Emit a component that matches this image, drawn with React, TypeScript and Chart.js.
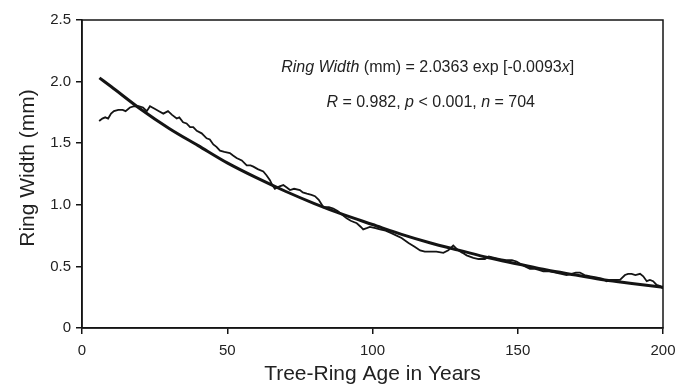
import React, { useEffect, useRef } from "react";
import { Chart, registerables } from "chart.js";

Chart.register(...registerables);

// Observed mean ring width by tree-ring age
const ageYears = [
  5.9, 7, 8, 9, 10, 11, 12.5, 14, 15, 16.5, 18, 19.5, 21, 22.3, 23.4, 25, 26.5, 28, 29.6, 31,
  32.6, 33.5, 34.8, 36, 37.2, 38.3, 39.5, 41.2, 42.9, 44, 45.2, 46.3, 47.5, 49, 50.9, 52, 53.2,
  55, 56.7, 58, 59, 60.5, 62.4, 63.5, 64.7, 65.5, 66.4, 68, 69.3, 70.5, 71.6, 73, 75, 76, 77.4,
  79, 80.2, 81.5, 83.1, 85, 86.5, 88, 89.5, 91.1, 92.5, 94.6, 96, 96.8, 98, 99.1, 101, 102.6,
  104.5, 106.5, 108.3, 110, 112.4, 114.5, 116.4, 118, 119.8, 122, 124.4, 126.1, 127.8, 129.5,
  131, 132.4, 134.7, 136.5, 138.7, 140, 142, 143.9, 146, 148, 149.6, 151, 152.5, 154.2, 156,
  157.5, 158.8, 161, 163, 165, 166.8, 168.5, 170, 171.4, 173, 175, 177, 179, 180.6, 182, 184,
  185.2, 186.9, 188, 189.2, 190.5, 192.1, 193.2, 194.4, 195.5, 196.6, 197.8, 199, 200,
];
const ringWidth = [
  1.68, 1.7, 1.71, 1.7, 1.74, 1.76, 1.77, 1.77, 1.76, 1.79, 1.8, 1.8, 1.79, 1.76, 1.8, 1.78, 1.76,
  1.74, 1.76, 1.73, 1.7, 1.71, 1.67, 1.66, 1.63, 1.63, 1.6, 1.58, 1.54, 1.53, 1.49, 1.47, 1.44,
  1.43, 1.42, 1.4, 1.38, 1.36, 1.32, 1.32, 1.31, 1.29, 1.27, 1.24, 1.2, 1.16, 1.13, 1.15, 1.16,
  1.14, 1.12, 1.13, 1.12, 1.1, 1.09, 1.08, 1.07, 1.04, 0.98, 0.98, 0.97, 0.95, 0.92, 0.89, 0.87,
  0.85, 0.82, 0.8, 0.81, 0.82, 0.81, 0.8, 0.79, 0.77, 0.75, 0.73, 0.69, 0.66, 0.63, 0.62, 0.62,
  0.62, 0.61, 0.63, 0.67, 0.63, 0.61, 0.59, 0.57, 0.56, 0.56, 0.58, 0.57, 0.56, 0.55, 0.55, 0.54,
  0.52, 0.5, 0.48, 0.48, 0.47, 0.46, 0.46, 0.45, 0.44, 0.43, 0.44, 0.45, 0.45, 0.43, 0.42, 0.41,
  0.4, 0.38, 0.39, 0.39, 0.39, 0.43, 0.44, 0.44, 0.43, 0.44, 0.42, 0.38, 0.39, 0.38, 0.35, 0.34,
  0.32,
];

// Fitted curve
const fitAge = [6, 10, 20, 30, 40, 50, 60, 70, 80, 90, 100, 110, 120, 130, 140, 150, 160, 170, 180, 190, 200];
const fitWidth = [
  2.03, 1.96, 1.78, 1.62, 1.48, 1.34, 1.22, 1.11, 1.01, 0.92, 0.84, 0.76, 0.69, 0.63, 0.57, 0.52,
  0.47, 0.43, 0.39, 0.36, 0.33,
];

const xTicks = [0, 50, 100, 150, 200];
const yTicks = [0, 0.5, 1.0, 1.5, 2.0, 2.5];
const yTickLabels = ["0", "0.5", "1.0", "1.5", "2.0", "2.5"];

const xTitle = "Tree-Ring Age in Years";
const yTitle = "Ring Width (mm)";
const eqLine1 = [
  { t: "Ring Width", i: true },
  { t: " (mm) = 2.0363 exp [-0.0093", i: false },
  { t: "x", i: true },
  { t: "]", i: false },
];
const eqLine2 = [
  { t: "R", i: true },
  { t: " = 0.982, ", i: false },
  { t: "p", i: true },
  { t: " < 0.001, ", i: false },
  { t: "n", i: true },
  { t: " = 704", i: false },
];

const FONT = "'Liberation Sans', Arial, sans-serif";
const TEXT = "#222";
const INK = "#141414";

function drawMixed(ctx: CanvasRenderingContext2D, segs: { t: string; i: boolean }[], cx: number, y: number, size: number) {
  const fontOf = (it: boolean) => `${it ? "italic " : ""}${size}px ${FONT}`;
  let total = 0;
  for (const s of segs) {
    ctx.font = fontOf(s.i);
    total += ctx.measureText(s.t).width;
  }
  let x = cx - total / 2;
  ctx.textAlign = "left";
  ctx.textBaseline = "alphabetic";
  for (const s of segs) {
    ctx.font = fontOf(s.i);
    ctx.fillText(s.t, x, y);
    x += ctx.measureText(s.t).width;
  }
}

const decorPlugin = {
  id: "decor",
  afterDraw(chart: any) {
    const { ctx, chartArea } = chart;
    const { left, right, top, bottom } = chartArea;
    ctx.save();
    ctx.strokeStyle = INK;
    ctx.lineWidth = 1.5;
    ctx.strokeRect(left, top, right - left, bottom - top);

    ctx.fillStyle = TEXT;
    const xs = chart.scales.x;
    const ys = chart.scales.y;
    const cx = xs.getPixelForValue(119);
    drawMixed(ctx, eqLine1, cx, ys.getPixelForValue(2.08), 16);
    drawMixed(ctx, eqLine2, cx + 3, ys.getPixelForValue(1.795), 16);

    // axis titles
    ctx.font = `21px ${FONT}`;
    ctx.textAlign = "center";
    ctx.textBaseline = "alphabetic";
    ctx.fillText(xTitle, (left + right) / 2, 380);
    ctx.translate(34, 168);
    ctx.rotate(-Math.PI / 2);
    ctx.fillText(yTitle, 0, 0);
    ctx.restore();
  },
};

export default function App() {
  const ref = useRef<HTMLCanvasElement | null>(null);
  useEffect(() => {
    document.body.style.margin = "0";
    const canvas = ref.current;
    if (!canvas) return;
    const chart = new Chart(canvas, {
      type: "line",
      data: {
        datasets: [
          {
            label: "Observed",
            data: ageYears.map((x, i) => ({ x, y: ringWidth[i] })),
            borderColor: INK,
            borderWidth: 1.8,
            pointRadius: 0,
            tension: 0,
          },
          {
            label: "Fit",
            data: fitAge.map((x, i) => ({ x, y: fitWidth[i] })),
            borderColor: INK,
            borderWidth: 3,
            pointRadius: 0,
            tension: 0.4,
            cubicInterpolationMode: "monotone",
          },
        ],
      },
      options: {
        responsive: false,
        animation: false,
        layout: { padding: { left: 0, right: 27, top: 20, bottom: 0 } },
        plugins: { legend: { display: false }, tooltip: { enabled: false } },
        scales: {
          x: {
            type: "linear",
            min: 0,
            max: 200,
            afterBuildTicks: (s: any) => {
              s.ticks = xTicks.map((v) => ({ value: v }));
            },
            afterFit: (s: any) => {
              s.height = 57;
            },
            grid: { drawOnChartArea: false, drawTicks: true, tickLength: 6, color: INK, lineWidth: 1.5 },
            border: { display: true, color: INK, width: 1.5 },
            ticks: { color: TEXT, font: { family: FONT, size: 15 }, padding: 8, maxRotation: 0 },
          },
          y: {
            type: "linear",
            min: 0,
            max: 2.5,
            afterBuildTicks: (s: any) => {
              s.ticks = yTicks.map((v) => ({ value: v }));
            },
            afterFit: (s: any) => {
              s.width = 82;
            },
            grid: { drawOnChartArea: false, drawTicks: true, tickLength: 6, color: INK, lineWidth: 1.5 },
            border: { display: true, color: INK, width: 1.5 },
            ticks: {
              color: TEXT,
              font: { family: FONT, size: 15 },
              padding: 5,
              callback: (v: any) => {
                const idx = yTicks.indexOf(Number(v));
                return idx >= 0 ? yTickLabels[idx] : "";
              },
            },
          },
        },
      },
      plugins: [decorPlugin],
    } as any);
    return () => chart.destroy();
  }, []);
  return (
    <div style={{ width: 690, height: 385 }}>
      <canvas ref={ref} width={690} height={385} style={{ display: "block" }} />
    </div>
  );
}
